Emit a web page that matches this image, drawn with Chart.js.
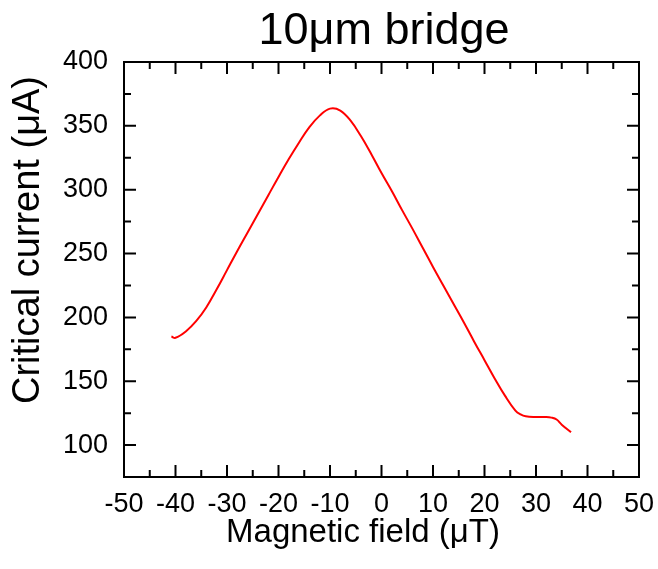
<!DOCTYPE html>
<html>
<head>
<meta charset="utf-8">
<script src="https://cdn.jsdelivr.net/npm/chart.js@4"></script>
<style>
  html, body { margin: 0; padding: 0; background: #fff; }
  #wrap { width: 658px; height: 569px; }
</style>
</head>
<body>
<div id="wrap"><canvas id="lineChart"></canvas></div>
<script>
// magnetic field (uT) and critical current (uA)
const fieldValues = [-40.8, -40, -38, -36, -34, -32, -30, -28, -26, -24, -22, -20, -18, -16, -14, -12, -10, -8, -6, -4, -2, 0,
    2, 4, 6, 8, 10, 12, 14, 16, 18, 20, 22, 24, 26, 27, 28, 30, 32, 33, 34, 35, 36.8];
const currentValues = [185, 184, 189, 197, 208, 222, 237, 252, 266.5, 281, 295.5, 310, 324, 337, 349, 358, 363.5, 362, 354, 342, 328, 313,
    299, 284, 269.5, 254.5, 239.5, 225, 210.5, 196, 181, 166.5, 152, 138.5, 127, 124, 122.5, 122, 122, 121.5, 120, 116, 110];

const xTicks = [-50, -40, -30, -20, -10, 0, 10, 20, 30, 40, 50];
const yTicks = [100, 150, 200, 250, 300, 350, 400];

const titleText = '10\u03bcm bridge';
const xTitle = 'Magnetic field (\u03bcT)';
const yTitle = 'Critical current (\u03bcA)';

const FONT = '"Liberation Sans", Arial, sans-serif';

function midpoints(list) {
    const out = [];
    for (let i = 0; i < list.length - 1; i++) out.push((list[i] + list[i + 1]) / 2);
    return out;
}

// box, inward ticks on all four sides, and the titles
const frameAndTicks = {
    id: 'frameAndTicks',
    afterDraw(chart) {
        const ctx = chart.ctx;
        const a = chart.chartArea;
        const x = chart.scales.x;
        const y = chart.scales.y;
        ctx.save();
        ctx.strokeStyle = '#000';
        ctx.lineWidth = 2;
        ctx.strokeRect(a.left, a.top, a.right - a.left, a.bottom - a.top);

        const tick = (px, len, vertical) => {
            ctx.beginPath();
            if (vertical) {
                ctx.moveTo(px, a.bottom); ctx.lineTo(px, a.bottom - len);
                ctx.moveTo(px, a.top); ctx.lineTo(px, a.top + len);
            } else {
                ctx.moveTo(a.left, px); ctx.lineTo(a.left + len, px);
                ctx.moveTo(a.right, px); ctx.lineTo(a.right - len, px);
            }
            ctx.stroke();
        };
        xTicks.forEach(v => tick(x.getPixelForValue(v), 12, true));
        midpoints(xTicks).forEach(v => tick(x.getPixelForValue(v), 7, true));
        yTicks.forEach(v => tick(y.getPixelForValue(v), 12, false));
        midpoints(yTicks).forEach(v => tick(y.getPixelForValue(v), 7, false));

        ctx.fillStyle = '#000';
        ctx.textAlign = 'center';
        ctx.textBaseline = 'alphabetic';
        ctx.font = '45px ' + FONT;
        ctx.fillText(titleText, 384, 44);

        ctx.font = '33px ' + FONT;
        ctx.fillText(xTitle, 363, 542);

        ctx.translate(39, 240);
        ctx.rotate(-Math.PI / 2);
        ctx.font = '38px ' + FONT;
        ctx.fillText(yTitle, 0, 0);
        ctx.restore();
    }
};

const ctx = document.getElementById('lineChart').getContext('2d');
new Chart(ctx, {
    type: 'scatter',
    data: {
        datasets: [{
            label: 'Critical current',
            data: fieldValues.map((f, i) => ({ x: f, y: currentValues[i] })),
            showLine: true,
            borderColor: '#ff0000',
            borderWidth: 2,
            pointRadius: 0,
            tension: 0.4
        }]
    },
    options: {
        responsive: true,
        maintainAspectRatio: false,
        animation: false,
        layout: { padding: { top: 62, right: 19, left: 0, bottom: 0 } },
        plugins: {
            legend: { display: false },
            tooltip: { enabled: false }
        },
        scales: {
            x: {
                type: 'linear',
                min: -50,
                max: 50,
                grid: { display: false, drawTicks: false },
                border: { display: false },
                afterBuildTicks: s => { s.ticks = xTicks.map(v => ({ value: v })); },
                afterFit: s => { s.height = 92; s.paddingLeft = 0; s.paddingRight = 0; },
                ticks: {
                    color: '#000',
                    padding: 11,
                    maxRotation: 0,
                    autoSkip: false,
                    font: { family: FONT, size: 27 }
                }
            },
            y: {
                min: 75,
                max: 400,
                grid: { display: false, drawTicks: false },
                border: { display: false },
                afterBuildTicks: s => { s.ticks = yTicks.map(v => ({ value: v })); },
                afterFit: s => { s.width = 124; s.paddingTop = 0; s.paddingBottom = 0; },
                ticks: {
                    color: '#000',
                    padding: 16,
                    autoSkip: false,
                    font: { family: FONT, size: 27 }
                }
            }
        }
    },
    plugins: [frameAndTicks]
});
</script>
</body>
</html>
